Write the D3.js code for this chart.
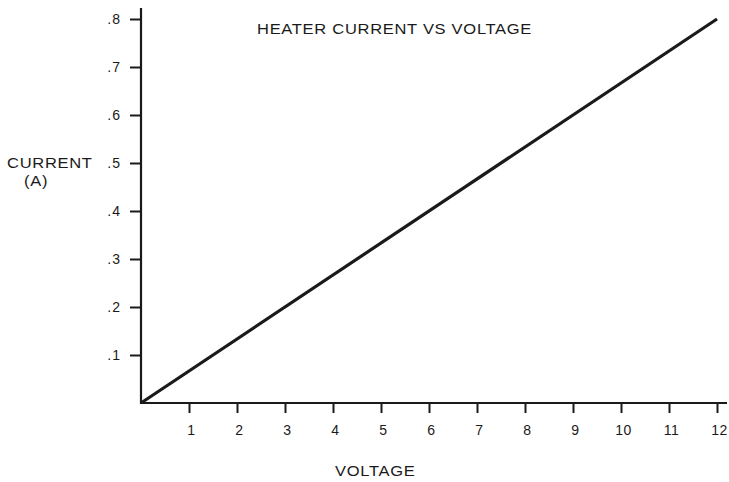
<!DOCTYPE html>
<html>
<head>
<meta charset="utf-8">
<script src="https://cdn.jsdelivr.net/npm/d3@7"></script>
<style>
  html, body { margin: 0; padding: 0; background: #fff; }
  text { font-family: "Liberation Sans", Arial, sans-serif; fill: #1a1a1a; }
</style>
</head>
<body>
<svg id="chart" width="729" height="482"></svg>
<script>
// Heater current (A) against applied voltage (V)
const voltage = [0, 12];
const current = [0, 0.8];
const xTicks = [1, 2, 3, 4, 5, 6, 7, 8, 9, 10, 11, 12];
const yTicks = [0.1, 0.2, 0.3, 0.4, 0.5, 0.6, 0.7, 0.8];
const yTickLabels = [".1", ".2", ".3", ".4", ".5", ".6", ".7", ".8"];

const svg = d3.select("#chart");
const ink = "#1a1a1a";
const font = "Liberation Sans, Arial, sans-serif";

const x = d3.scaleLinear().domain([0, 12]).range([141, 717]);
const y = d3.scaleLinear().domain([0, 0.8]).range([403, 19]);

// axis lines
svg.append("line")
  .attr("x1", x(0)).attr("x2", x(0))
  .attr("y1", 8).attr("y2", y(0) + 1)
  .attr("stroke", ink).attr("stroke-width", 2.2);
svg.append("line")
  .attr("x1", x(0) - 1).attr("x2", 727)
  .attr("y1", y(0)).attr("y2", y(0))
  .attr("stroke", ink).attr("stroke-width", 2.2);

// x ticks point downward
const xAxis = d3.axisBottom(x).tickValues(xTicks).tickSize(10).tickPadding(12)
  .tickFormat(d3.format("d"));
const gx = svg.append("g").attr("transform", `translate(0,${y(0)})`).call(xAxis);
gx.select(".domain").remove();
gx.selectAll(".tick line").attr("stroke", ink).attr("stroke-width", 2);
gx.selectAll(".tick text").attr("font-size", 14).attr("font-family", font)
  .attr("fill", ink).attr("dx", 2).attr("letter-spacing", 0.5);

// y ticks point leftward
const yAxis = d3.axisLeft(y).tickValues(yTicks).tickSize(11).tickPadding(9)
  .tickFormat((d, i) => yTickLabels[i]);
const gy = svg.append("g").attr("transform", `translate(${x(0)},0)`).call(yAxis);
gy.select(".domain").remove();
gy.selectAll(".tick line").attr("stroke", ink).attr("stroke-width", 2);
gy.selectAll(".tick text").attr("font-size", 14).attr("font-family", font)
  .attr("fill", ink).attr("letter-spacing", 1);

// current-voltage line
const line = d3.line().x((d, i) => x(voltage[i])).y(d => y(d));
svg.append("path")
  .datum(current)
  .attr("d", line)
  .attr("fill", "none")
  .attr("stroke", ink)
  .attr("stroke-width", 3.2);

// titles, set in a slightly extended face
const label = (tx, ty, str) => svg.append("text")
  .attr("transform", `translate(${tx},${ty}) scale(1.18,1)`)
  .attr("font-size", 14).attr("letter-spacing", 0.6).text(str);

label(257, 34, "HEATER CURRENT VS VOLTAGE");
label(335, 476, "VOLTAGE");
label(7, 168, "CURRENT");
label(24, 186, "(A)");
</script>
</body>
</html>
